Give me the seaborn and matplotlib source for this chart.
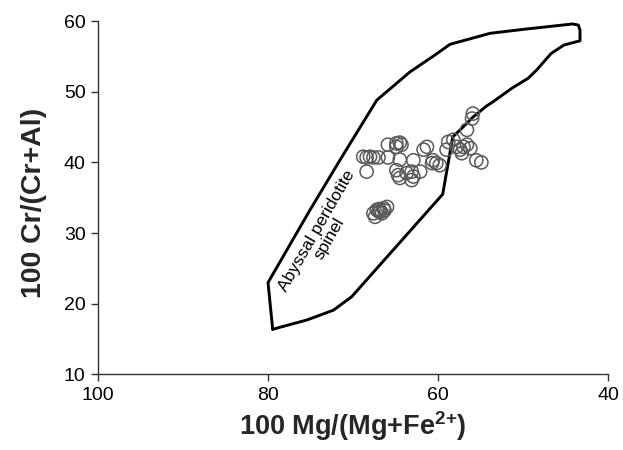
import matplotlib
matplotlib.use("Agg")
import matplotlib.pyplot as plt
import seaborn as sns
import pandas as pd

# Spinel analyses: 100 Mg/(Mg+Fe2+) and 100 Cr/(Cr+Al)
mg_number = [68.8, 68.4, 68.0, 67.6, 68.4, 67.0, 65.9, 64.9, 64.5, 64.3, 64.9, 65.9,
             64.5, 62.9, 64.9, 64.7, 64.5, 63.7, 63.1, 62.9, 63.1, 62.1, 61.7, 61.3,
             60.6, 60.7, 60.2, 59.8, 59.0, 58.8, 58.2, 57.8, 57.4, 57.0, 56.6, 56.2,
             57.2, 55.5, 54.9, 56.6, 55.9, 56.0,
             67.2, 66.8, 66.4, 66.0, 67.6, 67.4, 66.6, 67.0, 66.3, 66.9]
cr_number = [40.8, 40.7, 40.8, 40.7, 38.7, 40.7, 42.5, 42.7, 42.8, 42.5, 42.2, 40.7,
             40.4, 40.3, 38.9, 38.2, 37.8, 38.5, 38.7, 38.0, 37.5, 38.7, 41.8, 42.2,
             40.3, 39.9, 39.9, 39.6, 41.8, 42.9, 43.2, 42.2, 41.8, 42.2, 42.5, 42.0,
             41.3, 40.3, 40.0, 44.6, 46.9, 46.2,
             33.3, 33.0, 33.5, 33.7, 32.8, 32.3, 32.8, 33.1, 33.2, 33.4]

# Abyssal peridotite spinel field outline
field_mg = [79.45, 75.45, 72.3, 70.16, 59.45, 58.27, 57.18, 55.9, 54.27, 53.5, 51.3,
            49.4, 48.4, 46.7, 45.2, 43.3, 43.3, 43.5, 44.2, 49.9, 53.88, 58.6,
            60.35, 63.3, 67.21, 71.53, 75.06, 80.0, 79.45]
field_cr = [16.4, 17.7, 19.1, 21.0, 35.5, 43.6, 44.86, 46.4, 48.0, 48.6, 50.5,
            51.9, 53.07, 55.4, 56.6, 57.2, 58.73, 59.43, 59.58, 58.83, 58.26, 56.7,
            55.2, 52.8, 48.8, 40.34, 33.27, 23.0, 16.4]

x_ticks = [100, 80, 60, 40]
y_ticks = [10, 20, 30, 40, 50, 60]

sns.set_theme(style="ticks")
plt.rcParams["font.family"] = ["Liberation Sans", "DejaVu Sans"]
plt.rcParams["mathtext.fontset"] = "custom"
plt.rcParams["mathtext.rm"] = "Liberation Sans"
plt.rcParams["mathtext.bf"] = "Liberation Sans:bold"

fig = plt.figure(figsize=(6.23, 4.5), dpi=100)
ax = fig.add_axes([0.1573, 0.1678, 0.8187, 0.7855])

df = pd.DataFrame({"mg": mg_number, "cr": cr_number})
ax.plot(field_mg, field_cr, color="black", lw=2.1, solid_joinstyle="round", zorder=2)
sns.scatterplot(data=df, x="mg", y="cr", ax=ax, marker="o", s=90,
                facecolor="none", edgecolor="#5a5a5a", linewidth=1.1, zorder=3)

ax.text(73.5, 29.8, "Abyssal peridotite\nspinel", rotation=60, rotation_mode="anchor",
        ha="center", va="center", fontsize=12.5, color="black", linespacing=1.0)

ax.set_xlim(100, 40)
ax.set_ylim(10, 60)
ax.set_xticks(x_ticks)
ax.set_yticks(y_ticks)
ax.tick_params(axis="both", labelsize=14, length=5, width=1, color="#333333",
               labelcolor="black", pad=4)
for side in ["top", "right"]:
    ax.spines[side].set_visible(False)
for side in ["left", "bottom"]:
    ax.spines[side].set_color("#333333")
    ax.spines[side].set_linewidth(1.0)

ax.set_xlabel(r"100 Mg/(Mg+Fe$^{\mathbf{2{+}}}$)", fontsize=19.5, fontweight="bold", labelpad=4)
ax.set_ylabel("100 Cr/(Cr+Al)", fontsize=20.5, fontweight="bold", labelpad=14)
ax.yaxis.set_label_coords(-0.1, 0.485)

fig.savefig("out.png", dpi=100)
